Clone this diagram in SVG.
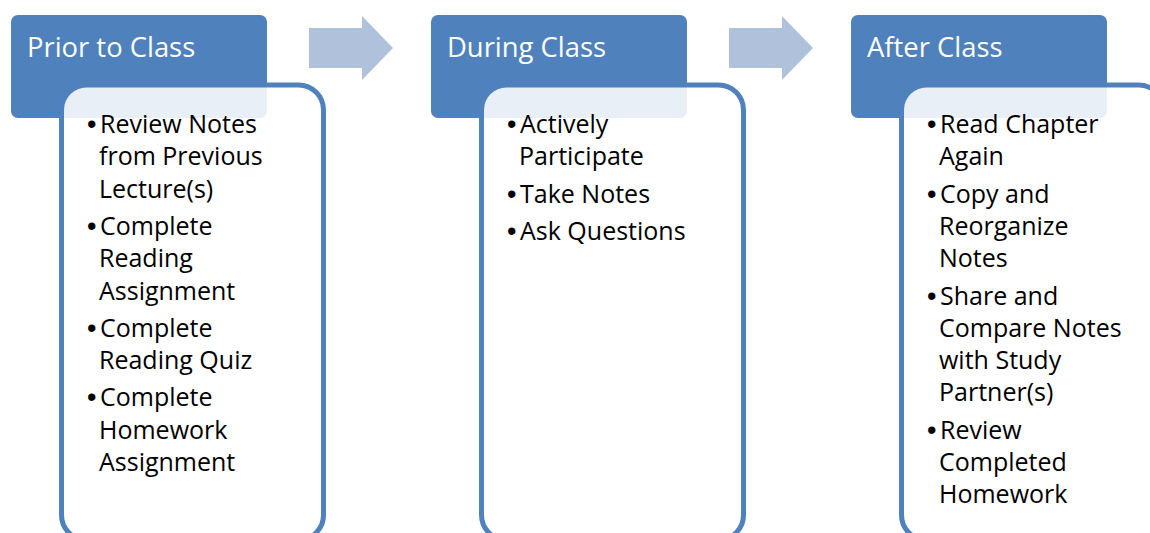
<svg xmlns="http://www.w3.org/2000/svg" width="1150" height="533" viewBox="0 0 1150 533">
  <style>
    .hdr { fill: #4F81BD; }
    .body { fill: #FFFFFF; fill-opacity: 0.87; stroke: #4F81BD; stroke-width: 5; }
    .title { font-family: "Open Sans", "Noto Sans", sans-serif; font-size: 27.4px; fill: #FFFFFF; }
    .item { font-family: "Open Sans", "Noto Sans", sans-serif; font-size: 25px; fill: #000000; }
    .bul { font-family: "Liberation Sans", Arial, sans-serif; font-size: 27px; }
    .arrow { fill: #B0C1DC; }
  </style>
  <rect width="1150" height="533" fill="#FFFFFF"/>

  <g id="connectors">
    <polygon class="arrow" points="309,28 362,28 362,16 393,48 362,80 362,68 309,68"/>
    <polygon class="arrow" points="729,28 782,28 782,16 813,48 782,80 782,68 729,68"/>
  </g>

  <g id="prior">
    <rect class="hdr" x="11" y="15" width="256" height="103" rx="7"/>
    <text class="title" x="27" y="57">Prior to Class</text>
    <rect class="body" x="61.5" y="85" width="262" height="455" rx="25"/>
    <g class="item">
      <text x="87" y="133"><tspan class="bul">•</tspan><tspan x="100">Review Notes</tspan></text>
      <text x="99" y="165.3">from Previous</text>
      <text x="99" y="197.6">Lecture(s)</text>
      <text x="87" y="234.9"><tspan class="bul">•</tspan><tspan x="100">Complete</tspan></text>
      <text x="99" y="267.2">Reading</text>
      <text x="99" y="299.5">Assignment</text>
      <text x="87" y="336.8"><tspan class="bul">•</tspan><tspan x="100">Complete</tspan></text>
      <text x="99" y="369.1">Reading Quiz</text>
      <text x="87" y="406.4"><tspan class="bul">•</tspan><tspan x="100">Complete</tspan></text>
      <text x="99" y="438.7">Homework</text>
      <text x="99" y="471">Assignment</text>
    </g>
  </g>

  <g id="during">
    <rect class="hdr" x="431" y="15" width="256" height="103" rx="7"/>
    <text class="title" x="447" y="57">During Class</text>
    <rect class="body" x="481.5" y="85" width="262" height="455" rx="25"/>
    <g class="item">
      <text x="507" y="133"><tspan class="bul">•</tspan><tspan x="520">Actively</tspan></text>
      <text x="519" y="165.3">Participate</text>
      <text x="507" y="202.6"><tspan class="bul">•</tspan><tspan x="520">Take Notes</tspan></text>
      <text x="507" y="239.9"><tspan class="bul">•</tspan><tspan x="520">Ask Questions</tspan></text>
    </g>
  </g>

  <g id="after">
    <rect class="hdr" x="851" y="15" width="256" height="103" rx="7"/>
    <text class="title" x="867" y="57">After Class</text>
    <rect class="body" x="901.5" y="85" width="262" height="455" rx="25"/>
    <g class="item">
      <text x="927" y="133"><tspan class="bul">•</tspan><tspan x="940">Read Chapter</tspan></text>
      <text x="939" y="165.3">Again</text>
      <text x="927" y="202.6"><tspan class="bul">•</tspan><tspan x="940">Copy and</tspan></text>
      <text x="939" y="234.9">Reorganize</text>
      <text x="939" y="267.2">Notes</text>
      <text x="927" y="304.5"><tspan class="bul">•</tspan><tspan x="940">Share and</tspan></text>
      <text x="939" y="336.8">Compare Notes</text>
      <text x="939" y="369.1">with Study</text>
      <text x="939" y="401.4">Partner(s)</text>
      <text x="927" y="438.7"><tspan class="bul">•</tspan><tspan x="940">Review</tspan></text>
      <text x="939" y="471">Completed</text>
      <text x="939" y="503.3">Homework</text>
    </g>
  </g>
</svg>
